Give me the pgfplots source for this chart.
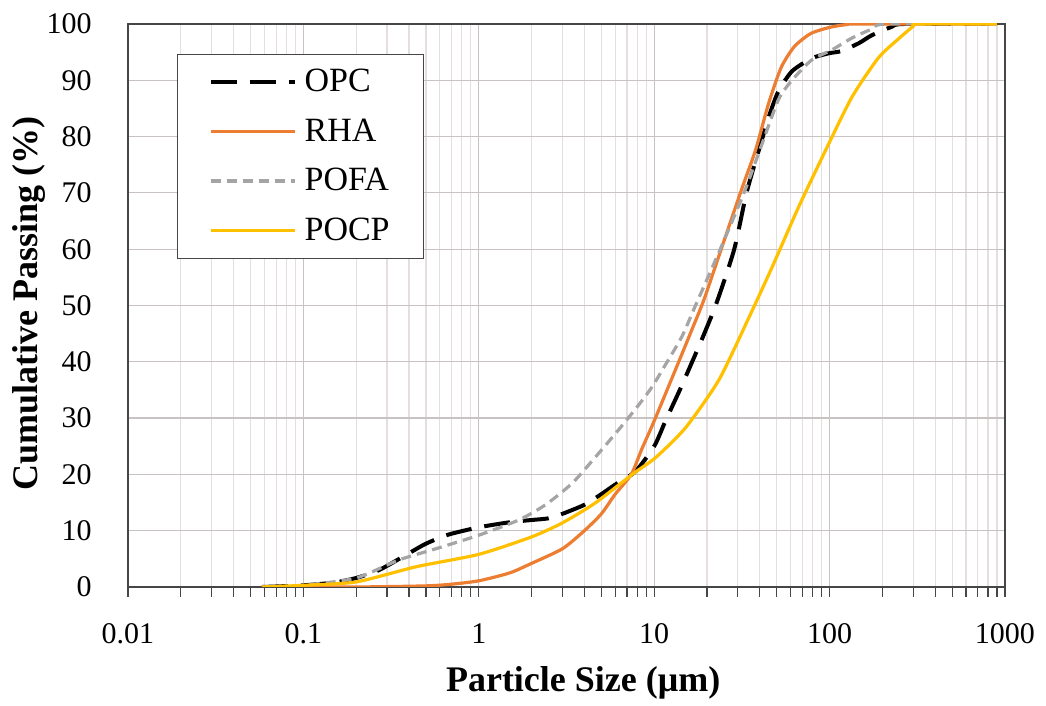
\documentclass[border=0pt]{standalone}
\usepackage{fontspec}
\setmainfont{Liberation Serif}
\usepackage{pgfplots}
\pgfplotsset{compat=1.18}
\usetikzlibrary{calc}

\definecolor{rhaorange}{RGB}{237,125,49}
\definecolor{pofagray}{RGB}{165,165,165}
\definecolor{pocpyellow}{RGB}{255,192,0}
\definecolor{majgrid}{RGB}{200,194,194}
\definecolor{mingrid}{RGB}{228,222,222}
\definecolor{axisgray}{RGB}{70,70,70}

\begin{document}
\begin{tikzpicture}
\begin{axis}[
  xmode=log,
  scale only axis,
  width=438.5pt, height=281.5pt,
  xmin=0.01, xmax=1000,
  ymin=0, ymax=100,
  xtick={0.01,0.1,1,10,100,1000},
  xticklabels={0.01,0.1,1,10,100,1000},
  minor xtick={0.02,0.03,0.04,0.05,0.06,0.07,0.08,0.09,
               0.2,0.3,0.4,0.5,0.6,0.7,0.8,0.9,
               2,3,4,5,6,7,8,9,
               20,30,40,50,60,70,80,90,
               200,300,400,500,600,700,800,900},
  ytick={0,10,...,100},
  /pgf/number format/assume math mode=true,
  xmajorgrids, xminorgrids, ymajorgrids,
  major grid style={majgrid, line width=0.6pt},
  minor grid style={mingrid, line width=0.6pt},
  axis line style={axisgray, line width=0.6pt},
  tick align=outside,
  xtick pos=bottom,
  major tick length=5pt, minor tick length=5pt,
  every tick/.style={axisgray, line width=0.6pt},
  ytick style={draw=none},
  ticklabel style={font=\fontsize{15}{17}\selectfont},
  yticklabel style={anchor=east, inner sep=0pt, xshift=-13pt},
  xticklabel style={anchor=north, inner sep=0pt, yshift=-13pt},
  xlabel={Particle Size (μm)},
  ylabel={Cumulative Passing (\%)},
  label style={font=\fontsize{18}{21}\selectfont\bfseries},
  xlabel style={at={(axis description cs:0.519,-0.170)}, anchor=center},
  ylabel style={at={(axis description cs:-0.113,0.5035)}, anchor=center},
  legend style={at={(rel axis cs:0.056,0.947)}, anchor=north west,
    draw=axisgray, line width=0.5pt, fill=white,
    font=\fontsize{17}{19}\selectfont,
    inner xsep=15.5pt, inner ysep=6pt, row sep=9pt, column sep=2.5pt,
    nodes={inner sep=1.5pt}},
  legend cell align=left,
  legend image code/.code={\draw[#1] (0pt,0pt) -- (42pt,0pt);},
]
\addplot[black, line width=2pt, dash pattern=on 13pt off 6.5pt, smooth, tension=0.4]
  coordinates {(0.058,0)(0.1,0.3)(0.15,0.8)(0.2,1.6)(0.27,3)(0.4,6)(0.5,7.7)(0.67,9.3)
  (1,10.6)(1.5,11.5)(2,11.9)(2.5,12.2)(3,13)(4,14.6)(5,16.5)(6,18.2)(7.8,20.5)
  (10,25)(11.6,29.5)(14,35)(16.2,39.5)(19,44.5)(22.7,50.5)(28.6,60)(33.6,70)(39.5,77.6)
  (45,83.5)(51,88)(61,91.6)(79,93.9)(99,94.8)(117,95.2)(147,96.6)(174,98)(226,99.5)(265,100)(900,100)};
\addlegendentry{OPC}

\addplot[rhaorange, line width=1.6pt, smooth, tension=0.4]
  coordinates {(0.058,0)(0.2,0)(0.5,0.2)(0.7,0.5)(1,1.1)(1.5,2.5)(2,4.2)(3,6.8)
  (4,10)(5,13)(6,16.5)(7.4,20)(8.5,24.5)(10,29.5)(13.8,40)(16.3,45.5)(19.2,51)(24.4,60.5)
  (31.4,70.5)(38,77.8)(45,86)(53,92.3)(63,96)(78,98.3)(100,99.4)(125,99.9)(150,100)(900,100)};
\addlegendentry{RHA}

\addplot[pofagray, line width=1.6pt, dash pattern=on 5pt off 3pt, smooth, tension=0.4]
  coordinates {(0.058,0)(0.1,0.3)(0.2,1.6)(0.35,4.8)(0.57,6.8)(1,9.2)(1.69,11.9)(2.4,14.6)
  (3.4,18.4)(4.6,23)(6.26,27.9)(8,32)(9.7,35.5)(11.6,39.5)(14.4,44.5)(17.2,50)
  (23.8,60)(32.5,70)(40,77.6)(51,86.5)(61,90)(79,93.6)(103,95.4)(134,97.5)(174,99.1)(210,100)(900,100)};
\addlegendentry{POFA}

\addplot[pocpyellow, line width=1.6pt, smooth, tension=0.4]
  coordinates {(0.058,0)(0.1,0.3)(0.2,0.9)(0.44,3.6)(1,5.8)(2,8.9)(3,11.4)(4.6,14.9)
  (7.5,20)(10.2,23)(15.1,28.3)(23.4,36.8)(34.6,47.8)(47,56.8)(66.6,67.5)
  (95,77.6)(134,87)(190,94)(250,97.5)(300,99.6)(320,100)(900,100)};
\addlegendentry{POCP}
\end{axis}
\path ($(current axis.south west)+(-64pt,-59pt)$) rectangle ($(current axis.north east)+(20.5pt,12pt)$);
\end{tikzpicture}
\end{document}
